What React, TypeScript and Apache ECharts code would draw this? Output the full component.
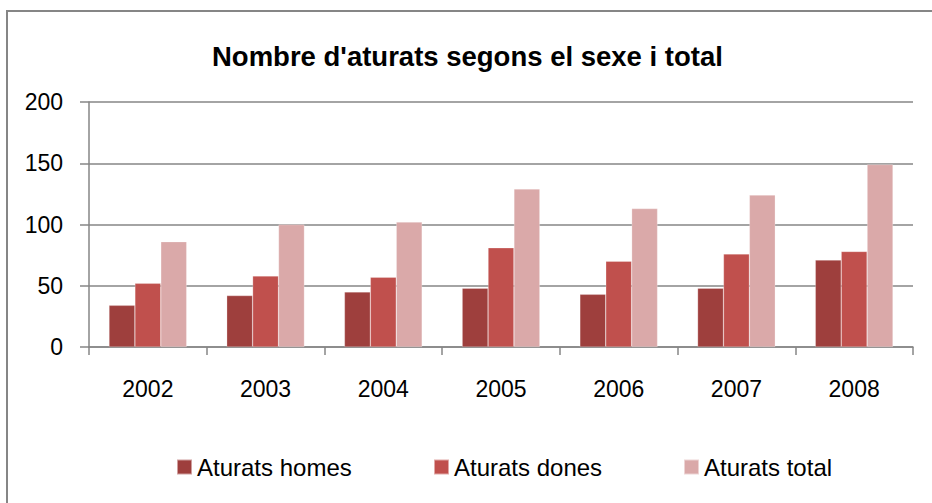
import React, { useEffect, useRef } from "react";
import * as echarts from "echarts";

const years = ["2002", "2003", "2004", "2005", "2006", "2007", "2008"];
const homes = [34, 42, 45, 48, 43, 48, 71];
const dones = [52, 58, 57, 81, 70, 76, 78];
const total = [86, 100, 102, 129, 113, 124, 149];
const seriesNames = ["Aturats homes", "Aturats dones", "Aturats total"];
const colors = ["#9E3F3D", "#C0504D", "#DAA9A9"];
const titleText = "Nombre d'aturats segons el sexe i total";
const legendLefts = [171, 428, 678];

const FONT = "Liberation Sans";

export default function App() {
  const ref = useRef<HTMLDivElement>(null);
  useEffect(() => {
    const chart = echarts.init(ref.current!, null, { renderer: "svg" });
    const data = [homes, dones, total];
    chart.setOption({
      animation: false,
      backgroundColor: "#ffffff",
      title: {
        text: titleText,
        left: 207,
        top: 37,
        textStyle: { fontFamily: FONT, fontSize: 27.5, fontWeight: "bold", color: "#000" },
      },
      graphic: [
        {
          type: "rect",
          shape: { x: 7, y: 11, width: 1000, height: 600 },
          style: { fill: "none", stroke: "#868686", lineWidth: 2 },
          silent: true,
        },
      ],
      legend: seriesNames.map((name, i) => ({
        left: legendLefts[i],
        top: 450,
        itemWidth: 15,
        itemHeight: 15,
        icon: "rect",
        textStyle: { fontFamily: FONT, fontSize: 24, color: "#000" },
        data: [name],
      })),
      grid: { left: 89, right: 19, top: 102, height: 245, containLabel: false },
      xAxis: {
        type: "category",
        data: years,
        axisLine: { lineStyle: { color: "#868686", width: 1.5 } },
        axisTick: { show: true, length: 8, lineStyle: { color: "#868686", width: 1.5 } },
        axisLabel: { fontFamily: FONT, fontSize: 23, color: "#000", margin: 30 },
      },
      yAxis: {
        type: "value",
        min: 0,
        max: 200,
        interval: 50,
        axisLine: { show: true, lineStyle: { color: "#868686", width: 1.5 } },
        axisTick: { show: true, length: 9, lineStyle: { color: "#868686", width: 1.5 } },
        splitLine: { lineStyle: { color: "#868686", width: 1.5 } },
        axisLabel: { fontFamily: FONT, fontSize: 23, color: "#000", margin: 26 },
      },
      series: seriesNames.map((name, i) => ({
        name,
        type: "bar",
        data: data[i],
        barGap: "0%",
        barCategoryGap: "34%",
        itemStyle: { color: colors[i], borderColor: "rgba(255,255,255,0.5)", borderWidth: 0.5 },
      })),
    });
    return () => chart.dispose();
  }, []);
  return (
    <div
      ref={ref}
      style={{ position: "fixed", left: 0, top: 0, width: 932, height: 503 }}
    />
  );
}
